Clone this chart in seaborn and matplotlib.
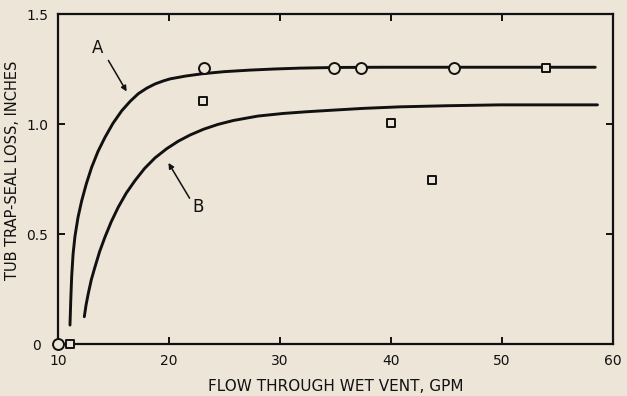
import numpy as np
import pandas as pd
import matplotlib
matplotlib.use("Agg")
import matplotlib.pyplot as plt
import matplotlib.transforms as mtransforms
import seaborn as sns

# Curve A
curve_a_x = [11.08, 11.15, 11.23, 11.36, 11.53, 11.80, 12.13, 12.55, 13.03, 13.60, 14.23, 14.95,
             15.74, 16.50, 17.24, 18.00, 18.74, 19.50, 20.09, 21.50, 23.09, 25.0, 27.3, 29.5, 31.8, 35.0,
             39.3, 45.0, 52.0, 58.4]
curve_a_y = [0.086, 0.200, 0.305, 0.410, 0.490, 0.575, 0.650, 0.728, 0.803, 0.875, 0.939, 1.003,
             1.060, 1.103, 1.138, 1.163, 1.182, 1.196, 1.205, 1.218, 1.229, 1.238, 1.245, 1.250, 1.254, 1.257,
             1.258, 1.258, 1.258, 1.258]

# Curve B
curve_b_x = [12.37, 12.53, 12.73, 13.00, 13.33, 13.75, 14.23, 14.80, 15.43, 16.15, 16.94, 17.80,
             18.74, 19.80, 20.84, 21.90, 23.10, 24.40, 25.80, 28.0, 30.3, 32.5, 34.8, 37.5, 40.8, 45.0,
             49.8, 54.0, 58.6]
curve_b_y = [0.124, 0.178, 0.230, 0.292, 0.350, 0.420, 0.486, 0.556, 0.622, 0.686, 0.743, 0.798,
             0.846, 0.888, 0.922, 0.950, 0.976, 0.998, 1.016, 1.036, 1.048, 1.056, 1.063, 1.071, 1.078, 1.083,
             1.087, 1.087, 1.087]

# Data points
circle_x = [10.0, 23.15, 34.9, 37.3, 45.7]
circle_y = [0.0, 1.254, 1.254, 1.254, 1.254]
square_x = [11.1, 23.1, 40.0, 43.7, 54.0]
square_y = [0.0, 1.106, 1.003, 0.747, 1.254]

x_ticks = [10, 20, 30, 40, 50, 60]
y_ticks = [0, 0.5, 1.0, 1.5]
y_tick_labels = ["0", "0.5", "1.0", "1.5"]

bg = "#ede5d7"
ink = "#111111"

sns.set_theme(style="ticks")
plt.rcParams["font.family"] = ["DejaVu Sans"]

fig = plt.figure(figsize=(6.27, 3.96), dpi=100, facecolor=bg)
ax = fig.add_axes([58 / 627, 1 - 344 / 396, (613 - 58) / 627, (344 - 14) / 396])
ax.set_facecolor(bg)

df_a = pd.DataFrame({"x": curve_a_x, "y": curve_a_y})
df_b = pd.DataFrame({"x": curve_b_x, "y": curve_b_y})
sns.lineplot(data=df_a, x="x", y="y", sort=False, estimator=None, color=ink, lw=2.1, ax=ax, zorder=2)
sns.lineplot(data=df_b, x="x", y="y", sort=False, estimator=None, color=ink, lw=2.1, ax=ax, zorder=2)

df_c = pd.DataFrame({"x": circle_x, "y": circle_y})
df_s = pd.DataFrame({"x": square_x, "y": square_y})
sns.scatterplot(data=df_c, x="x", y="y", marker="o", s=62, facecolor=bg, edgecolor=ink,
                linewidth=1.4, ax=ax, zorder=4, clip_on=False)
sns.scatterplot(data=df_s, x="x", y="y", marker="s", s=40, facecolor=bg, edgecolor=ink,
                linewidth=1.4, ax=ax, zorder=4, clip_on=False)

ax.set_xlim(10, 60)
ax.set_ylim(0, 1.5)
ax.set_xticks(x_ticks)
ax.set_xticklabels([str(t) for t in x_ticks])
ax.set_yticks(y_ticks)
ax.set_yticklabels(y_tick_labels)

for s in ax.spines.values():
    s.set_visible(True)
    s.set_linewidth(1.6)
    s.set_color(ink)

ax.tick_params(direction="in", length=5, width=1.4, colors=ink, top=True, right=True,
               labelsize=10, pad=5)
ax.tick_params(axis="x", pad=7)
ax.tick_params(axis="y", pad=7)

# the "0" label sits further left, clear of the corner markers
zero_lbl = ax.yaxis.get_major_ticks()[0].label1
zero_lbl.set_transform(zero_lbl.get_transform() +
                       mtransforms.ScaledTranslation(-7 / 100, 0, fig.dpi_scale_trans))

ax.set_xlabel("FLOW THROUGH WET VENT, GPM", fontsize=11, color=ink, labelpad=8)
ax.set_ylabel("TUB TRAP-SEAL LOSS, INCHES", fontsize=10.5, color=ink)
ax.yaxis.set_label_coords(-0.068, 0.527)

ax.annotate("", xy=(16.31, 1.137), xytext=(14.41, 1.30),
            arrowprops=dict(arrowstyle="-|>", color=ink, lw=1.1, mutation_scale=8))
ax.text(13.6, 1.346, "A", fontsize=12, ha="center", va="center", color=ink)
ax.annotate("", xy=(19.82, 0.834), xytext=(21.98, 0.652),
            arrowprops=dict(arrowstyle="-|>", color=ink, lw=1.1, mutation_scale=8))
ax.text(22.6, 0.625, "B", fontsize=12, ha="center", va="center", color=ink)

fig.savefig("out.png", dpi=100, facecolor=bg)
